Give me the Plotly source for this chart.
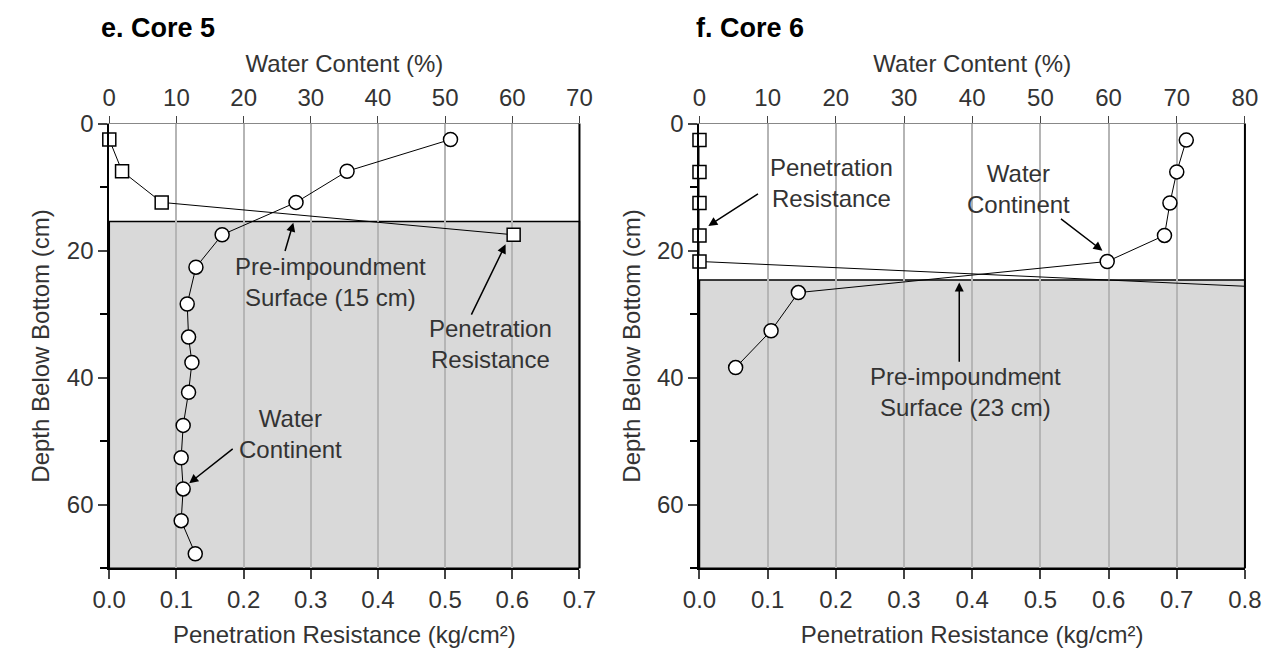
import plotly.graph_objects as go

# Core 5
c5_pr_depth = [2.5, 7.5, 12.4, 17.5]
c5_pr = [0.0, 0.019, 0.078, 0.602]
c5_wc_depth = [2.5, 7.5, 12.4, 17.5, 22.6, 28.4, 33.6, 37.6, 42.3, 47.5, 52.6, 57.5, 62.5, 67.7]
c5_wc = [50.8, 35.4, 27.8, 16.8, 12.9, 11.6, 11.8, 12.3, 11.8, 11.0, 10.7, 11.0, 10.7, 12.8]
c5_surface = 15.4
# Core 6
c6_pr_depth = [2.6, 7.6, 12.5, 17.6, 21.7]
c6_pr = [0.0, 0.0, 0.0, 0.0, 0.0]
c6_pr_tail_depth = [21.7, 25.6]
c6_pr_tail = [0.0, 0.8]
c6_wc_depth = [2.6, 7.6, 12.5, 17.6, 21.7, 26.6, 32.6, 38.4]
c6_wc = [71.4, 70.0, 69.0, 68.2, 59.8, 14.5, 10.5, 5.3]
c6_surface = 24.6

FONT = "Liberation Sans, Arial, sans-serif"
fig = go.Figure()
line = dict(color="black", width=1)
sq = dict(symbol="square", size=13, color="white", line=dict(color="black", width=1.5))
ci = dict(symbol="circle", size=14, color="white", line=dict(color="black", width=1.5))

fig.add_trace(go.Scatter(x=c5_wc, y=c5_wc_depth, xaxis="x3", yaxis="y", mode="lines+markers", line=line, marker=ci))
fig.add_trace(go.Scatter(x=c5_pr, y=c5_pr_depth, xaxis="x", yaxis="y", mode="lines+markers", line=line, marker=sq, cliponaxis=False))
fig.add_trace(go.Scatter(x=c6_pr_tail, y=c6_pr_tail_depth, xaxis="x2", yaxis="y2", mode="lines", line=line))
fig.add_trace(go.Scatter(x=c6_wc, y=c6_wc_depth, xaxis="x4", yaxis="y2", mode="lines+markers", line=line, marker=ci))
fig.add_trace(go.Scatter(x=c6_pr, y=c6_pr_depth, xaxis="x2", yaxis="y2", mode="lines+markers", line=line, marker=sq, cliponaxis=False))

tickf = dict(family=FONT, size=24, color="#333")
titf = dict(family=FONT, size=24, color="#333")
ax_common = dict(showline=True, linecolor="black", linewidth=2, ticks="outside", ticklen=9,
                 tickwidth=2, tickfont=tickf, zeroline=False, mirror=False)
d1 = [0.0682, 0.4486]
d2 = [0.5457, 0.987]
ydom = [0.145, 0.841]
fig.update_layout(
    width=1270, height=653, margin=dict(l=0, r=0, t=0, b=0),
    paper_bgcolor="white", plot_bgcolor="white", showlegend=False,
    xaxis=dict(ax_common, domain=d1, range=[0, 0.7], dtick=0.1, tickformat=".1f", anchor="y",
               showgrid=True, gridcolor="#b5b5b5", gridwidth=2,
               title=dict(text="Penetration Resistance (kg/cm²)", font=titf, standoff=14)),
    xaxis2=dict(ax_common, domain=d2, range=[0, 0.8], dtick=0.1, tickformat=".1f", anchor="y2",
                showgrid=True, gridcolor="#b5b5b5", gridwidth=2,
                title=dict(text="Penetration Resistance (kg/cm²)", font=titf, standoff=14)),
    xaxis3=dict(domain=d1, range=[0, 70], dtick=10, side="top", overlaying="x", anchor="y",
                showline=True, linecolor="#888", linewidth=1, ticks="outside", ticklen=7, tickfont=tickf,
                showgrid=False, zeroline=False,
                title=dict(text="Water Content (%)", font=titf, standoff=4)),
    xaxis4=dict(domain=d2, range=[0, 80], dtick=10, side="top", overlaying="x2", anchor="y2",
                showline=True, linecolor="#888", linewidth=1, ticks="outside", ticklen=7, tickfont=tickf,
                showgrid=False, zeroline=False,
                title=dict(text="Water Content (%)", font=titf, standoff=4)),
    yaxis=dict(ax_common, domain=ydom, range=[70, 0], tickvals=[0, 20, 40, 60], anchor="x", showgrid=False,
               minor=dict(tickvals=[10, 30, 50, 70], ticks="outside", ticklen=7, tickwidth=2, tickcolor="black"),
               title=dict(text="Depth Below Bottom (cm)", font=titf, standoff=10)),
    yaxis2=dict(ax_common, domain=ydom, range=[70, 0], tickvals=[0, 20, 40, 60], anchor="x2", showgrid=False,
                minor=dict(tickvals=[10, 30, 50, 70], ticks="outside", ticklen=7, tickwidth=2, tickcolor="black"),
                title=dict(text="Depth Below Bottom (cm)", font=titf, standoff=10)),
)
for xr, yr, s in [("x", "y", c5_surface), ("x2", "y2", c6_surface)]:
    fig.add_shape(type="rect", xref=xr + " domain", yref=yr, x0=0, x1=1, y0=s, y1=70,
                  fillcolor="#d9d9d9", line=dict(color="black", width=1.5), layer="below")
    fig.add_shape(type="line", xref=xr + " domain", yref=yr + " domain", x0=1, x1=1, y0=0, y1=1,
                  line=dict(color="black", width=2))

af = dict(family=FONT, size=24, color="#333")
def ann(xr, yr, x, y, ax, ay, text, tx, ty):
    fig.add_annotation(xref=xr, yref=yr, x=x, y=y, axref=xr, ayref=yr, ax=ax, ay=ay, text="",
                       showarrow=True, arrowhead=2, arrowsize=1.2, arrowwidth=1.5, arrowcolor="black")
    fig.add_annotation(xref=xr, yref=yr, x=tx, y=ty, text=text, showarrow=False, font=af)

ann("x", "y", 0.274, 15.6, 0.261, 20.3, "Pre-impoundment<br>Surface (15 cm)", 0.33, 25.0)
ann("x", "y", 0.59, 19.0, 0.538, 30.3, "Penetration<br>Resistance", 0.568, 34.7)
ann("x", "y", 0.119, 56.6, 0.186, 51.0, "Water<br>Continent", 0.27, 48.8)
ann("x2", "y2", 0.013, 16.1, 0.088, 10.9, "Penetration<br>Resistance", 0.193, 9.3)
ann("x2", "y2", 0.591, 20.0, 0.528, 14.8, "Water<br>Continent", 0.468, 10.3)
ann("x2", "y2", 0.381, 25.0, 0.381, 37.7, "Pre-impoundment<br>Surface (23 cm)", 0.39, 42.3)

tf = dict(family=FONT, size=27, color="black")
fig.add_annotation(xref="paper", yref="paper", x=0.06, y=0.99, text="<b>e. Core 5</b>", showarrow=False, xanchor="left", yanchor="middle", font=tf)
fig.add_annotation(xref="paper", yref="paper", x=0.541, y=0.99, text="<b>f. Core 6</b>", showarrow=False, xanchor="left", yanchor="middle", font=tf)

fig.write_html("out.html")
